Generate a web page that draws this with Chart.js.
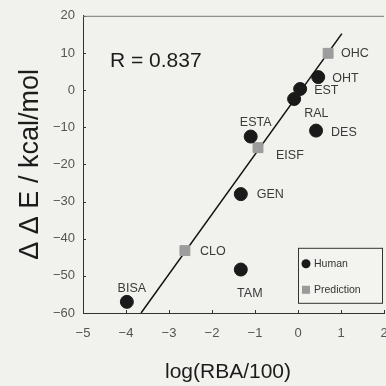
<!DOCTYPE html>
<html>
<head>
<meta charset="utf-8">
<script src="https://cdn.jsdelivr.net/npm/chart.js@4.4.1/dist/chart.umd.min.js"></script>
<style>
  html, body { margin: 0; padding: 0; background: #f1f1ed; overflow: hidden; }
  #wrap { width: 386px; height: 386px; overflow: hidden; }
</style>
</head>
<body>
<div id="wrap"><canvas id="myChart" width="392" height="386"></canvas></div>
<script>
// human data (log(RBA/100), ddE)
var humanNames = ['OHT', 'EST', 'RAL', 'DES', 'ESTA', 'GEN', 'TAM', 'BISA'];
var humanX = [0.47, 0.05, -0.09, 0.42, -1.1, -1.33, -1.33, -3.98];
var humanY = [3.5, 0.3, -2.4, -10.9, -12.5, -28, -48.3, -57];

// prediction data
var predNames = ['OHC', 'EISF', 'CLO'];
var predX = [0.7, -0.93, -2.63];
var predY = [9.9, -15.5, -43.2];

// regression line end points
var fitX = [-3.65, 1.02];
var fitY = [-60, 15.2];

var xTicks = [-5, -4, -3, -2, -1, 0, 1, 2];
var yTicks = [-60, -50, -40, -30, -20, -10, 0, 10, 20];

function pts(xs, ys) {
    return xs.map(function (x, i) { return { x: x, y: ys[i] }; });
}

// where each label sits relative to its point
var labelPos = {
    OHC: [13, 0, 'left'], OHT: [14, 1, 'left'], EST: [14, 2, 'left'],
    RAL: [10, 15, 'left'], DES: [15, 2, 'left'], ESTA: [5, -14, 'center'],
    EISF: [18, 8, 'left'], GEN: [16, 0, 'left'], CLO: [15, 1, 'left'],
    TAM: [9, 24, 'center'], BISA: [5, -13, 'center']
};

var labelPlugin = {
    id: 'pointLabels',
    afterDatasetsDraw: function (chart) {
        var c = chart.ctx, xs = chart.scales.x, ys = chart.scales.y;
        var ca = chart.chartArea;
        c.save();
        // inward ticks
        c.strokeStyle = '#333';
        c.lineWidth = 1;
        c.beginPath();
        xTicks.forEach(function (t) {
            var px = Math.round(xs.getPixelForValue(t)) + 0.5;
            c.moveTo(px, ca.bottom); c.lineTo(px, ca.bottom - 3);
        });
        yTicks.forEach(function (t) {
            var py = Math.round(ys.getPixelForValue(t)) + 0.5;
            c.moveTo(ca.left, py); c.lineTo(ca.left + 3, py);
        });
        c.stroke();

        // top frame line
        c.strokeStyle = '#777';
        c.beginPath();
        c.moveTo(ca.left, ca.top + 0.5); c.lineTo(ca.right, ca.top + 0.5);
        c.stroke();

        c.fillStyle = '#3a3a3a';
        c.font = '12.5px "Liberation Sans Narrow", "Liberation Sans", Arial, sans-serif';
        c.textBaseline = 'middle';
        var draw = function (names, xv, yv) {
            names.forEach(function (n, i) {
                var p = labelPos[n];
                c.textAlign = p[2];
                c.fillText(n, xs.getPixelForValue(xv[i]) + p[0], ys.getPixelForValue(yv[i]) + p[1]);
            });
        };
        draw(humanNames, humanX, humanY);
        draw(predNames, predX, predY);

        // R value
        c.fillStyle = '#1c1c1c';
        c.font = '21px "Liberation Sans", Arial, sans-serif';
        c.textAlign = 'left';
        c.fillText('R = 0.837', ca.left + 27, ca.top + 45);

        // legend box
        var bx = ca.left + 215, by = ca.top + 232;
        c.fillStyle = '#f3f3ef';
        c.fillRect(bx, by, 84, 55);
        c.strokeStyle = '#333';
        c.strokeRect(bx + 0.5, by + 0.5, 84, 55);
        c.fillStyle = '#1a1a1a';
        c.beginPath(); c.arc(bx + 8, by + 16, 4.5, 0, Math.PI * 2); c.fill();
        c.fillStyle = '#9a9a9a';
        c.fillRect(bx + 4, by + 38, 8, 8);
        c.fillStyle = '#333';
        c.font = '10.5px "Liberation Sans", Arial, sans-serif';
        c.fillText('Human', bx + 16, by + 16);
        c.fillText('Prediction', bx + 16, by + 42);

        // x axis title
        c.fillStyle = '#1c1c1c';
        c.font = '21px "Liberation Sans", Arial, sans-serif';
        c.textAlign = 'center';
        c.fillText('log(RBA/100)', 228, 372);
        c.restore();
    }
};

var ctx = document.getElementById('myChart').getContext('2d');
var myChart = new Chart(ctx, {
    type: 'scatter',
    data: {
        datasets: [
            {
                label: 'Human',
                data: pts(humanX, humanY),
                backgroundColor: '#1a1a1a',
                borderColor: '#1a1a1a',
                pointRadius: 6.5,
                pointHoverRadius: 6.5
            },
            {
                label: 'Prediction',
                data: pts(predX, predY),
                pointStyle: 'rect',
                backgroundColor: '#9c9c9c',
                borderColor: '#9c9c9c',
                pointRadius: 7,
                pointHoverRadius: 7
            },
            {
                label: 'fit',
                type: 'line',
                data: pts(fitX, fitY),
                borderColor: '#111',
                borderWidth: 1.5,
                pointRadius: 0,
                fill: false,
                order: 3
            }
        ]
    },
    options: {
        responsive: false,
        animation: false,
        events: [],
        layout: { padding: { top: 15, right: 0, left: 0, bottom: 0 } },
        plugins: {
            legend: { display: false },
            tooltip: { enabled: false }
        },
        scales: {
            x: {
                type: 'linear',
                min: -5,
                max: 2,
                afterBuildTicks: function (s) { s.ticks = xTicks.map(function (v) { return { value: v }; }); },
                afterFit: function (s) { s.height = 73; s.paddingRight = 0; },
                grid: { drawOnChartArea: false, drawTicks: false },
                border: { color: '#333', width: 1 },
                ticks: {
                    color: '#555',
                    padding: 13,
                    font: { size: 13, family: '"Liberation Sans", Arial, sans-serif' },
                    maxRotation: 0,
                    callback: function (v) { return v < 0 ? '\u2212' + Math.abs(v) : v; }
                }
            },
            y: {
                min: -60,
                max: 20,
                afterBuildTicks: function (s) { s.ticks = yTicks.map(function (v) { return { value: v }; }); },
                afterFit: function (s) { s.width = 83; },
                grid: { drawOnChartArea: false, drawTicks: false },
                border: { color: '#333', width: 1 },
                ticks: {
                    color: '#555',
                    padding: 8,
                    font: { size: 13, family: '"Liberation Sans", Arial, sans-serif' },
                    callback: function (v) { return v < 0 ? '\u2212' + Math.abs(v) : v; }
                },
                title: {
                    display: true,
                    text: '\u0394 \u0394 E / kcal/mol',
                    color: '#1c1c1c',
                    padding: { top: 14, bottom: 4 },
                    font: { size: 27, family: '"Liberation Sans", Arial, sans-serif' }
                }
            }
        }
    },
    plugins: [labelPlugin]
});
</script>
</body>
</html>
